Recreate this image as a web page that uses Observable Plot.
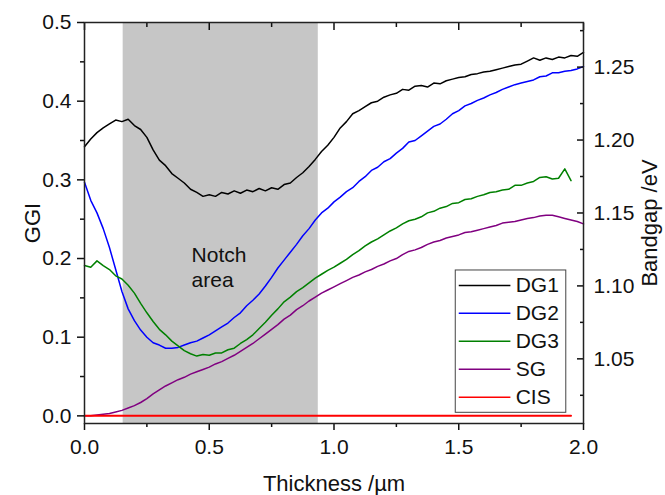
<!DOCTYPE html>
<html>
<head>
<meta charset="utf-8">
<script src="https://cdn.jsdelivr.net/npm/d3@7"></script>
<script src="https://cdn.jsdelivr.net/npm/@observablehq/plot@0.6"></script>
<style>
  html, body { margin: 0; padding: 0; background: #fff; }
  #chart svg { display: block; }
</style>
</head>
<body>
<div id="chart"></div>
<script>
// Thickness grid (µm)
const thickness = [0.000,0.025,0.050,0.075,0.100,0.125,0.150,0.175,0.200,0.225,0.250,0.275,0.300,0.325,0.350,0.375,0.400,0.425,0.450,0.475,0.500,0.525,0.550,0.575,0.600,0.625,0.650,0.675,0.700,0.725,0.750,0.775,0.800,0.825,0.850,0.875,0.900,0.925,0.950,0.975,1.000,1.025,1.050,1.075,1.100,1.125,1.150,1.175,1.200,1.225,1.250,1.275,1.300,1.325,1.350,1.375,1.400,1.425,1.450,1.475,1.500,1.525,1.550,1.575,1.600,1.625,1.650,1.675,1.700,1.725,1.750,1.775,1.800,1.825,1.850,1.875,1.900,1.925,1.950,1.975,2.000];

const dg1 = [0.342,0.352,0.360,0.366,0.371,0.376,0.374,0.377,0.369,0.364,0.354,0.338,0.325,0.318,0.308,0.302,0.296,0.288,0.284,0.279,0.281,0.279,0.284,0.282,0.286,0.283,0.287,0.285,0.289,0.286,0.290,0.288,0.294,0.296,0.303,0.309,0.317,0.326,0.336,0.344,0.354,0.366,0.374,0.384,0.388,0.393,0.398,0.400,0.405,0.408,0.410,0.415,0.414,0.419,0.420,0.418,0.423,0.422,0.426,0.428,0.430,0.431,0.434,0.435,0.437,0.438,0.440,0.442,0.444,0.446,0.447,0.451,0.455,0.452,0.455,0.453,0.456,0.455,0.458,0.457,0.462];

const dg2 = [0.297,0.274,0.258,0.238,0.214,0.186,0.158,0.136,0.121,0.109,0.100,0.093,0.090,0.086,0.086,0.087,0.090,0.093,0.095,0.099,0.103,0.108,0.113,0.118,0.125,0.131,0.140,0.147,0.155,0.165,0.176,0.188,0.198,0.208,0.218,0.229,0.238,0.249,0.258,0.264,0.272,0.278,0.285,0.290,0.298,0.304,0.312,0.316,0.323,0.327,0.334,0.340,0.348,0.350,0.356,0.362,0.368,0.371,0.377,0.384,0.388,0.394,0.397,0.401,0.404,0.408,0.411,0.415,0.418,0.421,0.423,0.425,0.427,0.431,0.432,0.436,0.436,0.438,0.439,0.441,0.444];

const dg3 = [0.191,0.189,0.197,0.191,0.186,0.178,0.174,0.166,0.156,0.143,0.131,0.120,0.110,0.103,0.095,0.089,0.083,0.079,0.076,0.078,0.077,0.080,0.080,0.084,0.086,0.092,0.097,0.103,0.111,0.119,0.128,0.136,0.145,0.151,0.158,0.163,0.169,0.175,0.180,0.185,0.189,0.194,0.199,0.205,0.210,0.216,0.221,0.225,0.230,0.235,0.239,0.244,0.248,0.250,0.253,0.258,0.260,0.264,0.266,0.270,0.271,0.275,0.276,0.279,0.281,0.284,0.285,0.287,0.288,0.293,0.293,0.296,0.298,0.303,0.304,0.301,0.302,0.314,0.299];

const sg = [0.000,0.000,0.001,0.002,0.003,0.005,0.007,0.010,0.013,0.017,0.022,0.028,0.033,0.038,0.042,0.046,0.049,0.053,0.056,0.059,0.062,0.066,0.069,0.073,0.077,0.082,0.087,0.092,0.098,0.104,0.110,0.116,0.123,0.128,0.135,0.140,0.146,0.151,0.156,0.160,0.164,0.168,0.172,0.176,0.179,0.183,0.186,0.190,0.193,0.197,0.200,0.205,0.209,0.211,0.214,0.218,0.221,0.223,0.226,0.228,0.230,0.233,0.234,0.236,0.238,0.240,0.242,0.245,0.246,0.247,0.249,0.251,0.252,0.254,0.255,0.255,0.253,0.251,0.249,0.247,0.244];

const cisThickness = [0.0, 1.95];
const cis = [0.0, 0.0];

// Notch area bounds (µm)
const notch = [{start: 0.155, end: 0.937}];

// Axis ticks
const xMajor = [0, 0.5, 1.0, 1.5, 2.0];
const xMinor = [0.25, 0.75, 1.25, 1.75];
const yMajor = [0, 0.1, 0.2, 0.3, 0.4, 0.5];
const yMinor = [0.05, 0.15, 0.25, 0.35, 0.45];
const egMajor = [1.05, 1.10, 1.15, 1.20, 1.25];
const egMinor = [1.025, 1.075, 1.125, 1.175, 1.225, 1.275];

// Legend
const legendLabels = ["DG1", "DG2", "DG3", "SG", "CIS"];
const legendColors = ["#000000", "#0000ff", "#008000", "#800080", "#ff0000"];

// Secondary axis mapping: Bandgap (eV) <-> GGI
const egAtZero = 1.0109, ggiPerEv = 1.854;
const egToGGI = e => (e - egAtZero) * ggiPerEv;
const ggiToEg = g => g / ggiPerEv + egAtZero;

const FONT = 21;
const TITLE = 22;
const ser = (arr, color, w = 1.5) =>
  Plot.line(arr, {x: (d, i) => thickness[i], y: d => d, stroke: color, strokeWidth: w, strokeLinejoin: "round"});

const legendY = i => 0.1658 - i * 0.0355;

const chart = Plot.plot({
  width: 665,
  height: 495,
  marginLeft: 84,
  marginRight: 82,
  marginTop: 22,
  marginBottom: 72,
  style: {fontFamily: "'Liberation Sans', Arial, sans-serif", color: "#111", background: "white"},
  x: {domain: [0, 2.0]},
  y: {domain: [-0.0097, 0.5]},
  color: {type: "identity"},
  marks: [
    Plot.rect(notch, {x1: "start", x2: "end", fill: "#c6c6c6"}),
    ser(dg1, "#000000"),
    ser(dg2, "#0000ff"),
    ser(dg3, "#008000"),
    ser(sg, "#800080"),
    Plot.line(cis, {x: (d, i) => cisThickness[i], y: d => d, stroke: "#ff0000", strokeWidth: 2}),
    Plot.text(["Notch\narea"], {x: 0.429, y: 0.19, textAnchor: "start", lineAnchor: "middle", lineHeight: 1.2, fontSize: FONT, fill: "#111"}),
    // legend
    Plot.rect([0], {x1: 1.488, x2: 1.931, y1: 0.0039, y2: 0.1848, fill: "white", stroke: "#444", strokeWidth: 1}),
    Plot.link(legendLabels, {x1: 1.50, x2: 1.707, y1: (d, i) => legendY(i), y2: (d, i) => legendY(i), stroke: (d, i) => legendColors[i], strokeWidth: 1.5}),
    Plot.text(legendLabels, {x: 1.728, y: (d, i) => legendY(i), textAnchor: "start", lineAnchor: "middle", fontSize: FONT, fill: "#111"}),
    // bottom axis (outward)
    Plot.axisX(xMajor, {anchor: "bottom", tickSize: 7, tickPadding: 9, tickFormat: ".1f", fontSize: FONT, strokeWidth: 1.5, label: null}),
    Plot.axisX(xMinor, {anchor: "bottom", tickSize: 4, tickFormat: () => "", strokeWidth: 1.5, label: null}),
    // top axis (inward)
    Plot.axisX(xMajor, {anchor: "top", tickSize: 7, dy: 7, tickFormat: () => "", strokeWidth: 1.5, label: null}),
    Plot.axisX(xMinor, {anchor: "top", tickSize: 4, dy: 4, tickFormat: () => "", strokeWidth: 1.5, label: null}),
    // left axis (outward)
    Plot.axisY(yMajor, {anchor: "left", tickSize: 7, tickPadding: 6, tickFormat: ".1f", fontSize: FONT, strokeWidth: 1.5, label: null}),
    Plot.axisY(yMinor, {anchor: "left", tickSize: 4, tickFormat: () => "", strokeWidth: 1.5, label: null}),
    // right axis: bandgap (inward ticks)
    Plot.axisY(egMajor.map(egToGGI), {anchor: "right", tickSize: 7, dx: -7, tickPadding: 10, tickFormat: d => ggiToEg(d).toFixed(2), fontSize: FONT, strokeWidth: 1.5, label: null}),
    Plot.axisY(egMinor.map(egToGGI), {anchor: "right", tickSize: 4, dx: -4, tickFormat: () => "", strokeWidth: 1.5, label: null}),
    Plot.frame({stroke: "#222", strokeWidth: 1.5}),
    // axis titles
    Plot.text(["Thickness /µm"], {frameAnchor: "bottom", dy: 67, lineAnchor: "bottom", textAnchor: "middle", fontSize: TITLE, fill: "#111"}),
    Plot.text(["GGI"], {frameAnchor: "left", dx: -52, rotate: -90, textAnchor: "middle", lineAnchor: "middle", fontSize: TITLE, fill: "#111"}),
    Plot.text(["Bandgap /eV"], {frameAnchor: "right", dx: 66, rotate: -90, textAnchor: "middle", lineAnchor: "middle", fontSize: TITLE, fill: "#111"})
  ]
});
document.getElementById("chart").appendChild(chart);
</script>
</body>
</html>
